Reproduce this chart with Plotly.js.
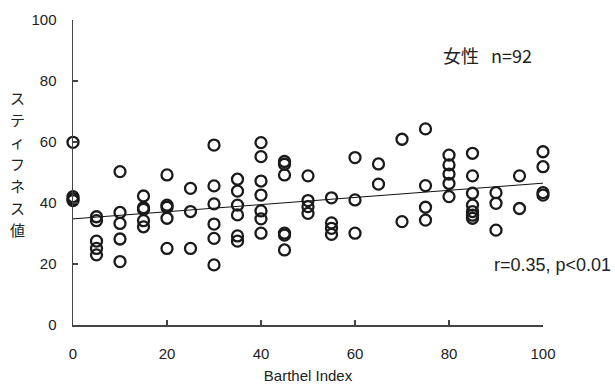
<!DOCTYPE html>
<html>
<head>
<meta charset="utf-8">
<script src="https://cdn.plot.ly/plotly-3.0.1.min.js"></script>
<style>html,body{margin:0;padding:0;background:#fff;}#chart{width:615px;height:387px;}</style>
</head>
<body>
<div id="chart"></div>
<script>
// Barthel Index (x) and stiffness value (y) for each subject
const barthel = [
  0,0,0,0,
  5,5,5,5,5,
  10,10,10,10,10,
  15,15,15,15,15,
  20,20,20,20,20,
  25,25,25,
  30,30,30,30,30,30,
  35,35,35,35,35,35,
  40,40,40,40,40,40,40,
  45,45,45,45,45,45,
  50,50,50,50,
  55,55,55,55,
  60,60,60,
  65,65,
  70,70,
  75,75,75,75,
  80,80,80,80,80,
  85,85,85,85,85,85,85,
  90,90,90,
  95,95,
  100,100,100,100
];
const stiffness = [
  59.9,42.1,41.4,40.8,
  35.5,34.2,27.5,25.1,23.0,
  50.3,36.9,33.3,28.2,20.8,
  42.3,38.5,37.9,34.2,32.2,
  49.2,39.3,38.6,35.0,25.1,
  44.8,37.2,25.1,
  59.0,45.6,39.7,33.1,28.4,19.7,
  47.8,43.9,39.3,36.1,29.2,27.5,
  59.8,55.2,47.2,42.6,37.4,34.8,30.1,
  53.6,52.7,49.2,30.1,29.5,24.6,
  48.9,40.8,38.8,36.6,
  41.7,33.5,31.7,29.7,
  54.9,41.0,30.1,
  52.8,46.2,
  60.9,33.9,
  64.3,45.7,38.6,34.4,
  55.7,52.5,49.5,46.4,42.1,
  56.3,48.9,43.2,39.3,37.2,36.0,35.0,
  43.4,39.9,31.1,
  48.9,38.2,
  56.8,51.9,43.4,42.6
];
// regression line end points
const trendX = [0, 100];
const trendY = [34.8, 46.5];
const xTicks = [0, 20, 40, 60, 80, 100];
const yTicks = [0, 20, 40, 60, 80, 100];
const yTitleChars = ['ス', 'テ', 'ィ', 'フ', 'ネ', 'ス', '値'];

const axisColor = '#444';
const fontFam = 'Arial, "Liberation Sans", "Noto Sans CJK JP", sans-serif';
const jpFam = '"Noto Sans CJK JP", sans-serif';

const traces = [
  {
    x: trendX, y: trendY, type: 'scatter', mode: 'lines',
    line: {color: '#111', width: 1}, hoverinfo: 'skip', cliponaxis: false
  },
  {
    x: barthel, y: stiffness, type: 'scatter', mode: 'markers',
    marker: {symbol: 'circle-open', size: 11, color: '#1a1a1a', line: {width: 2.3, color: '#1a1a1a'}},
    cliponaxis: false
  }
];

const plotH = 305;
const annotations = yTitleChars.map((ch, i) => ({
  text: ch, xref: 'paper', yref: 'paper',
  x: -0.118, y: (325 - (97 + i * 22)) / plotH,
  xanchor: 'center', yanchor: 'middle', showarrow: false,
  height: 20, valign: 'middle', borderpad: 0,
  font: {family: jpFam, size: 15, color: '#222'}
}));
annotations.push(
  {
    text: '女性&nbsp;&nbsp;&nbsp;n=92', xref: 'paper', yref: 'paper',
    x: 0.881, y: 0.885, xanchor: 'center', yanchor: 'middle', showarrow: false,
    font: {family: jpFam, size: 18, color: '#222'}
  },
  {
    text: 'r=0.35, p&lt;0.01', xref: 'paper', yref: 'paper',
    x: 1.0 + 70/470.5, y: 0.197, xanchor: 'right', yanchor: 'middle', showarrow: false,
    font: {family: fontFam, size: 18, color: '#222'}
  }
);

const layout = {
  width: 615, height: 387,
  margin: {l: 72.5, r: 72, t: 20, b: 62},
  paper_bgcolor: '#fff', plot_bgcolor: '#fff',
  showlegend: false,
  font: {family: fontFam, size: 15, color: '#222'},
  xaxis: {
    range: [0, 100], tickvals: xTicks, ticktext: xTicks.map(String),
    showgrid: false, zeroline: false, showline: true, linecolor: axisColor, linewidth: 1.5,
    ticks: 'inside', ticklen: 5, tickcolor: axisColor, tickwidth: 1.2,
    ticklabelstandoff: 14,
    tickfont: {family: fontFam, size: 15, color: '#222'},
    title: {text: 'Barthel Index', font: {family: fontFam, size: 15, color: '#222'}, standoff: 10}
  },
  yaxis: {
    range: [0, 100], tickvals: yTicks, ticktext: yTicks.map(String),
    showgrid: false, zeroline: false, showline: true, linecolor: axisColor, linewidth: 1.5,
    ticks: 'inside', ticklen: 5, tickcolor: axisColor, tickwidth: 1.2,
    ticklabelstandoff: 12,
    tickfont: {family: fontFam, size: 15, color: '#222'}
  },
  annotations: annotations
};

Plotly.newPlot('chart', traces, layout, {displayModeBar: false, staticPlot: true});
</script>
</body>
</html>
